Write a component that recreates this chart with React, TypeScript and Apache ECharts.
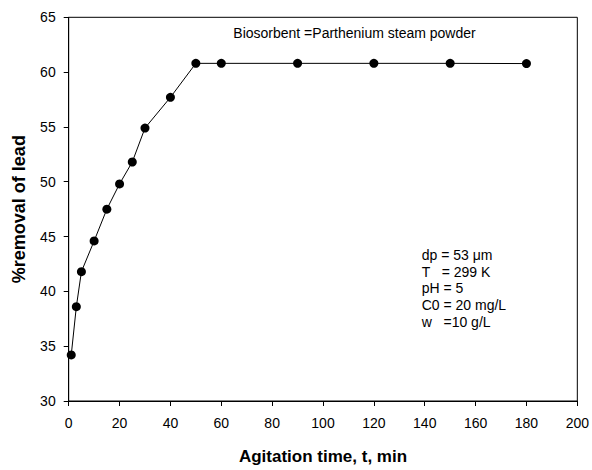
import React, { useEffect, useRef } from "react";
import * as echarts from "echarts";

const times = [1, 3, 5, 10, 15, 20, 25, 30, 40, 50, 60, 90, 120, 150, 180];
const removal = [34.2, 38.6, 41.8, 44.6, 47.5, 49.8, 51.8, 54.9, 57.7, 60.8, 60.8, 60.8, 60.8, 60.8, 60.78];
const titleText = "Biosorbent =Parthenium steam powder";
const conditions = ["dp = 53 \u03bcm", "T   = 299 K", "pH = 5", "C0 = 20 mg/L", "w   =10 g/L"];
const xName = "Agitation time, t, min";
const yName = "%removal of lead";

const FONT = "Liberation Sans, Arial, sans-serif";

export default function App() {
  const ref = useRef<HTMLDivElement>(null);
  useEffect(() => {
    if (!ref.current) return;
    const chart = echarts.init(ref.current, undefined, { renderer: "svg" });
    const left = 68.7, right = 13.5, top = 17.3, bottom = 63;
    chart.setOption({
      animation: false,
      backgroundColor: "#ffffff",
      grid: { left, right, top, bottom, show: true, borderColor: "#000", borderWidth: 1, containLabel: false },
      xAxis: {
        type: "value",
        min: 0,
        max: 200,
        interval: 20,
        name: xName,
        nameLocation: "middle",
        nameGap: 47,
        nameTextStyle: { fontFamily: FONT, fontSize: 17, fontWeight: "bold", color: "#000" },
        axisLine: { show: true, lineStyle: { color: "#000", width: 1 } },
        axisTick: { show: true, length: 5, inside: false, lineStyle: { color: "#000" } },
        axisLabel: { fontFamily: FONT, fontSize: 14, color: "#000", margin: 15 },
        splitLine: { show: false },
      },
      yAxis: {
        type: "value",
        min: 30,
        max: 65,
        interval: 5,
        name: yName,
        nameLocation: "middle",
        nameGap: 41,
        nameTextStyle: { fontFamily: FONT, fontSize: 18, fontWeight: "bold", color: "#000" },
        axisLine: { show: true, lineStyle: { color: "#000", width: 1 } },
        axisTick: { show: true, length: 5, inside: false, lineStyle: { color: "#000" } },
        axisLabel: { fontFamily: FONT, fontSize: 14, color: "#000", margin: 13 },
        splitLine: { show: false },
      },
      series: [
        {
          type: "line",
          data: times.map((t, i) => [t, removal[i]]),
          symbol: "circle",
          symbolSize: 9,
          lineStyle: { color: "#000", width: 1 },
          itemStyle: { color: "#000" },
        },
      ],
      graphic: [
        {
          type: "text",
          x: 354.5,
          y: 33,
          style: {
            text: titleText,
            fontFamily: FONT,
            fontSize: 14,
            fill: "#000",
            align: "center",
            verticalAlign: "middle",
          },
        },
        {
          type: "text",
          x: 421.7,
          y: 246.7,
          style: {
            text: conditions.join("\n"),
            fontFamily: FONT,
            fontSize: 14,
            lineHeight: 16.7,
            fill: "#000",
            align: "left",
            verticalAlign: "top",
          },
        },
      ],
    });
    return () => chart.dispose();
  }, []);
  return <div ref={ref} style={{ position: "fixed", left: 0, top: 0, width: 592, height: 470 }} />;
}
